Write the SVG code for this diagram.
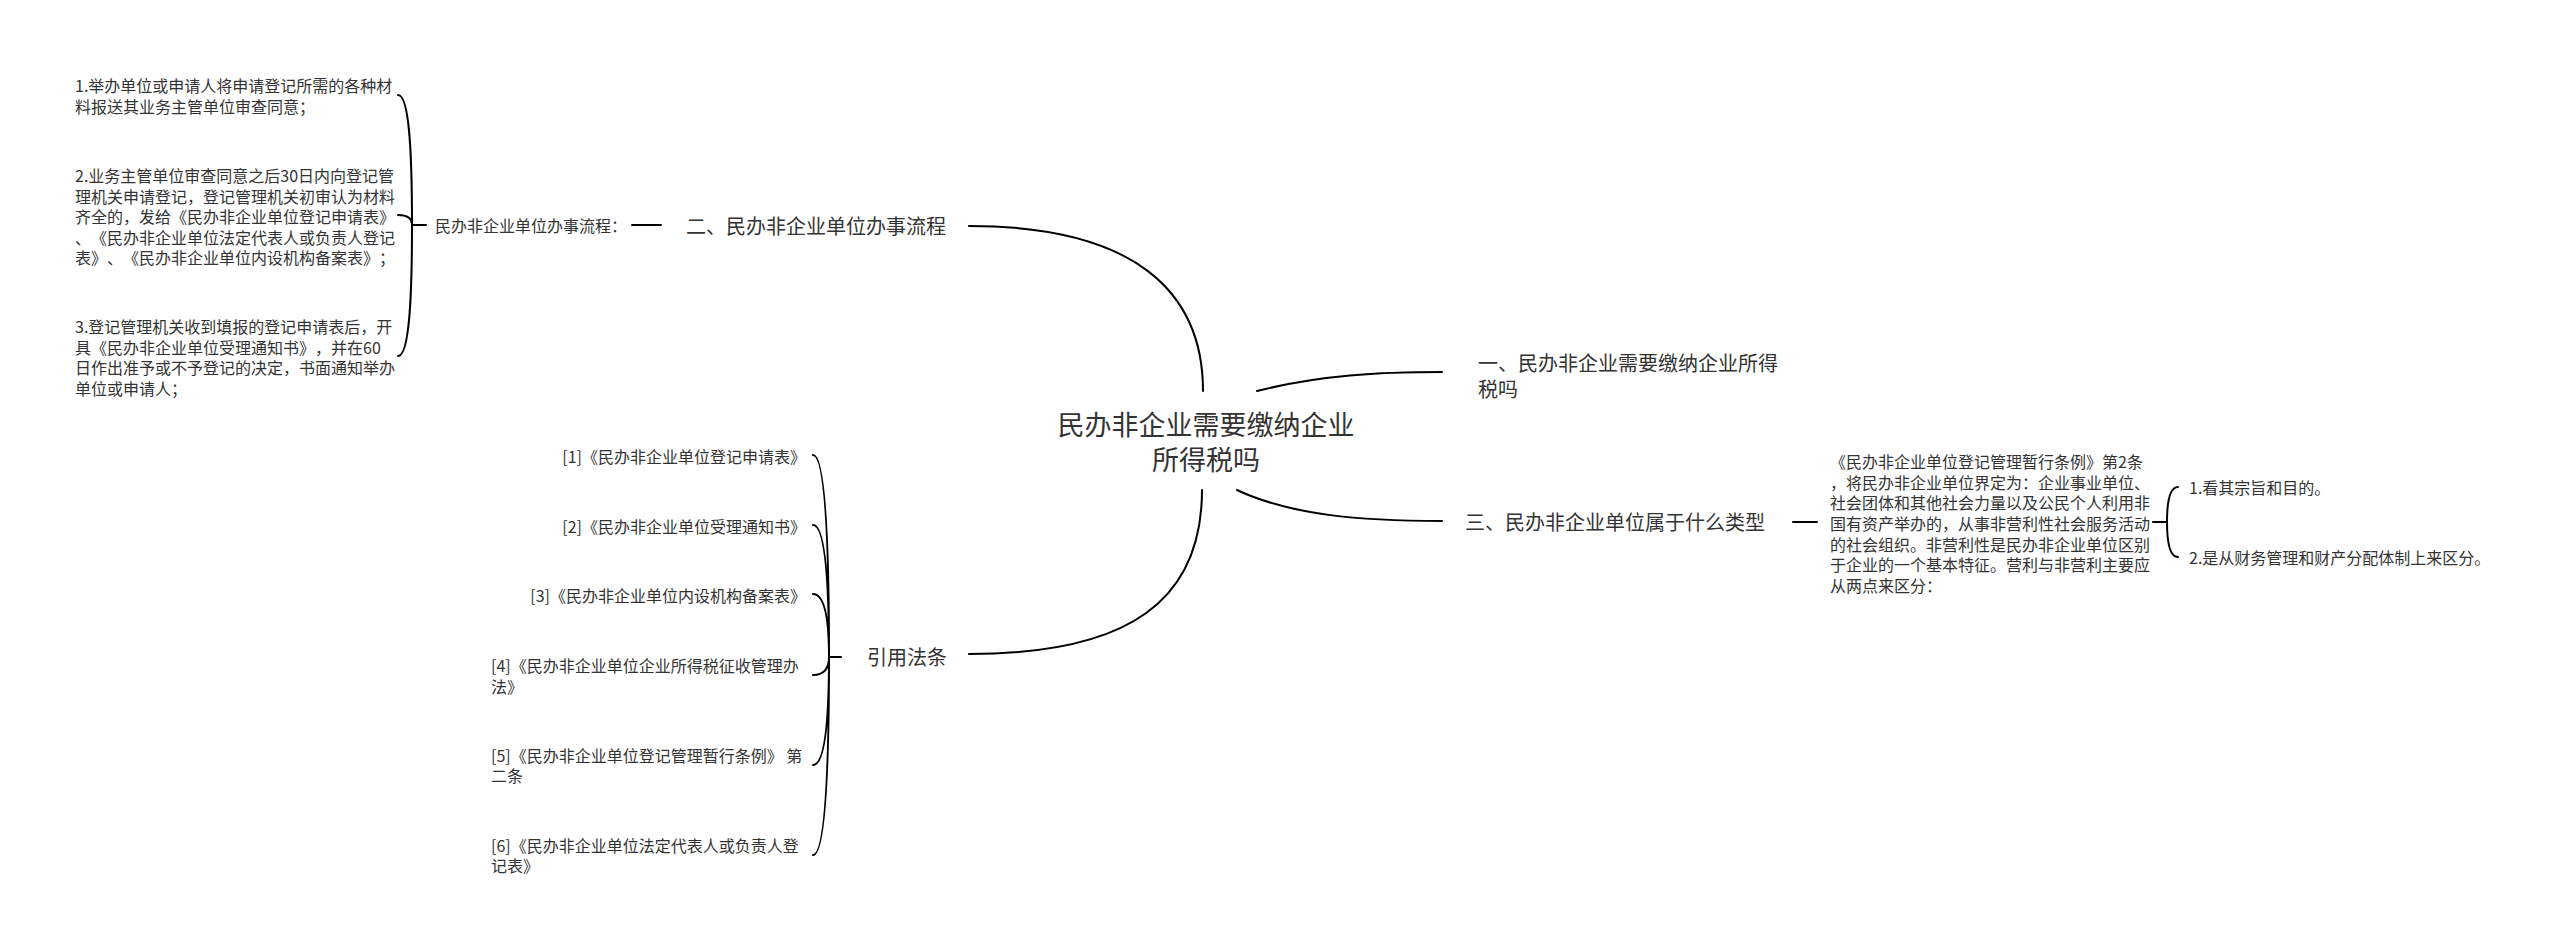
<svg xmlns="http://www.w3.org/2000/svg" width="2560" height="950" viewBox="0 0 2560 950">
<style>
text{font-family:"Noto Sans CJK SC","Noto Sans",sans-serif;fill:#333;dominant-baseline:central;text-spacing-trim:space-all;font-feature-settings:"halt" 0,"chws" 0}
.s16{font-size:16px}
.s20{font-size:20px}
.s27{font-size:27px}
.c{fill:none;stroke:#000;stroke-width:2;stroke-linecap:round}
</style>
<rect width="2560" height="950" fill="#fff"/>
<g id="connectors">
<path class="c" d="M969,226 C1135,226 1203,292 1203,391"/>
<path class="c" d="M1257,391 C1320,375 1380,372 1442,372"/>
<path class="c" d="M1237,490 C1290,515 1360,521 1442,521"/>
<path class="c" d="M1202,490 C1202,600 1130,654 969,654"/>
<path class="c" d="M632,225 L661,225"/>
<path class="c" d="M398,95 C410,95 412,160 412,225 M398,215 C406,215 412,218 412,225 M398,356 C410,356 412,290 412,225 M412,225 L426,225"/>
<path class="c" d="M1793,522 L1817,522"/>
<path class="c" d="M2178,487 C2170,487 2167,500 2167,522 M2178,557 C2170,557 2167,544 2167,522 M2167,522 L2153,522"/>
<path class="c" d="M813,455 C826,455 829,555 829,657 M813,525 C826,525 829,590 829,657 M813,594 C826,594 829,625 829,657 M813,675 C826,675 829,666 829,657 M813,765 C826,765 829,711 829,657 M813,855 C826,855 829,756 829,657 M829,657 L841,657"/>
</g>
<g id="root">
<text class="s27" x="1206" y="423" text-anchor="middle">民办非企业需要缴纳企业</text>
<text class="s27" x="1206" y="458" text-anchor="middle">所得税吗</text>
</g>
<g id="n1">
<text class="s20" x="1478" y="362">一、民办非企业需要缴纳企业所得</text>
<text class="s20" x="1478" y="388">税吗</text>
</g>
<g id="n2">
<text class="s20" x="686" y="225">二、民办非企业单位办事流程</text>
</g>
<g id="n2-label">
<text class="s16" x="435" y="225">民办非企业单位办事流程：</text>
</g>
<g id="n2-step1">
<text class="s16" x="75" y="85">1.举办单位或申请人将申请登记所需的各种材</text>
<text class="s16" x="75" y="106">料报送其业务主管单位审查同意；</text>
</g>
<g id="n2-step2">
<text class="s16" x="75" y="175">2.业务主管单位审查同意之后30日内向登记管</text>
<text class="s16" x="75" y="196">理机关申请登记，登记管理机关初审认为材料</text>
<text class="s16" x="75" y="216">齐全的，发给《民办非企业单位登记申请表》</text>
<text class="s16" x="75" y="237">、《民办非企业单位法定代表人或负责人登记</text>
<text class="s16" x="75" y="257">表》、《民办非企业单位内设机构备案表》；</text>
</g>
<g id="n2-step3">
<text class="s16" x="75" y="326">3.登记管理机关收到填报的登记申请表后，开</text>
<text class="s16" x="75" y="347">具《民办非企业单位受理通知书》，并在60</text>
<text class="s16" x="75" y="367">日作出准予或不予登记的决定，书面通知举办</text>
<text class="s16" x="75" y="388">单位或申请人；</text>
</g>
<g id="n3">
<text class="s20" x="1465" y="521">三、民办非企业单位属于什么类型</text>
</g>
<g id="n3-detail">
<text class="s16" x="1830" y="461">《民办非企业单位登记管理暂行条例》第2条</text>
<text class="s16" x="1830" y="482">，将民办非企业单位界定为：企业事业单位、</text>
<text class="s16" x="1830" y="502">社会团体和其他社会力量以及公民个人利用非</text>
<text class="s16" x="1830" y="523">国有资产举办的，从事非营利性社会服务活动</text>
<text class="s16" x="1830" y="544">的社会组织。非营利性是民办非企业单位区别</text>
<text class="s16" x="1830" y="564">于企业的一个基本特征。营利与非营利主要应</text>
<text class="s16" x="1830" y="585">从两点来区分：</text>
</g>
<g id="n3-p1">
<text class="s16" x="2189" y="487">1.看其宗旨和目的。</text>
</g>
<g id="n3-p2">
<text class="s16" x="2189" y="557">2.是从财务管理和财产分配体制上来区分。</text>
</g>
<g id="n4">
<text class="s20" x="867" y="656">引用法条</text>
</g>
<g id="ref1"><text class="s16" x="806" y="456" text-anchor="end">[1]《民办非企业单位登记申请表》</text></g>
<g id="ref2"><text class="s16" x="806" y="526" text-anchor="end">[2]《民办非企业单位受理通知书》</text></g>
<g id="ref3"><text class="s16" x="806" y="595" text-anchor="end">[3]《民办非企业单位内设机构备案表》</text></g>
<g id="ref4">
<text class="s16" x="491" y="665">[4]《民办非企业单位企业所得税征收管理办</text>
<text class="s16" x="491" y="686">法》</text>
</g>
<g id="ref5">
<text class="s16" x="491" y="755">[5]《民办非企业单位登记管理暂行条例》 第</text>
<text class="s16" x="491" y="775">二条</text>
</g>
<g id="ref6">
<text class="s16" x="491" y="845">[6]《民办非企业单位法定代表人或负责人登</text>
<text class="s16" x="491" y="865">记表》</text>
</g>
</svg>
